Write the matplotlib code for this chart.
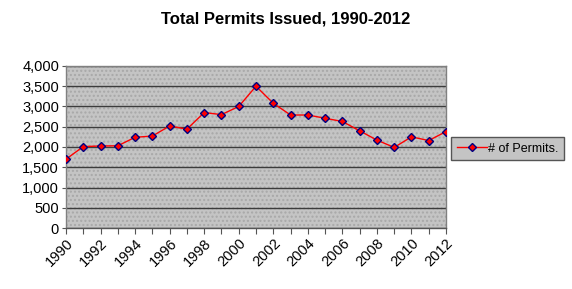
import matplotlib
matplotlib.use("Agg")
import matplotlib.pyplot as plt
from matplotlib.patches import Rectangle

years = list(range(1990, 2013))
permits = [1700, 2010, 2025, 2030, 2240, 2270, 2520, 2440, 2850, 2800, 3000, 3500,
           3080, 2790, 2790, 2710, 2630, 2400, 2170, 1990, 2250, 2160, 2380]
yticks = [0, 500, 1000, 1500, 2000, 2500, 3000, 3500, 4000]
xlabels = [str(y) for y in range(1990, 2013, 2)]

plt.rcParams['font.family'] = ['Liberation Sans', 'DejaVu Sans']

fig = plt.figure(figsize=(5.72, 2.89), dpi=100)
ax = fig.add_axes([66/572, 1 - 228/289, (446 - 66)/572, (228 - 66)/289])
ax.set_facecolor('#c4c4c4')
ax.add_patch(Rectangle((0, 0), 1, 1, transform=ax.transAxes, facecolor='none',
                       edgecolor='#a8a8a8', hatch='....', linewidth=0, zorder=0))

ax.plot(years, permits, color='red', linewidth=1.0, marker='D', markersize=4,
        markerfacecolor='red', markeredgecolor='#000080', markeredgewidth=1.0,
        label='# of Permits.', zorder=3)

ax.set_xlim(1990, 2012)
ax.set_ylim(0, 4000)
ax.set_yticks(yticks)
ax.set_yticklabels([f"{v:,}" for v in yticks], fontsize=10.5)
ax.set_xticks(years, minor=False)
ax.set_xticklabels([str(y) if y % 2 == 0 else '' for y in years], fontsize=10.5,
                   rotation=45, ha='right', rotation_mode='anchor')
ax.tick_params(axis='x', length=4, width=0.8, color='#555555', pad=2)
ax.tick_params(axis='y', length=3, width=0.8, color='#555555', pad=2)
ax.yaxis.grid(True, color='#3c3c3c', linewidth=1.0)
ax.set_axisbelow(True)
for s in ax.spines.values():
    s.set_color('#808080')
    s.set_linewidth(1.0)
ax.spines['bottom'].set_color('#555555')

fig.text(0.5, 1 - 19/289, 'Total Permits Issued, 1990-2012', ha='center', va='center',
         fontsize=12, fontweight='bold')

leg = ax.legend(loc='center left', bbox_to_anchor=(1.013, 0.49), frameon=True,
                fancybox=False, fontsize=9, handlelength=2.4, borderpad=0.45,
                handletextpad=0.1, borderaxespad=0)
leg.get_frame().set_facecolor('#c4c4c4')
leg.get_frame().set_edgecolor('#555555')
leg.get_frame().set_alpha(1)

fig.savefig('out.png', dpi=100)
